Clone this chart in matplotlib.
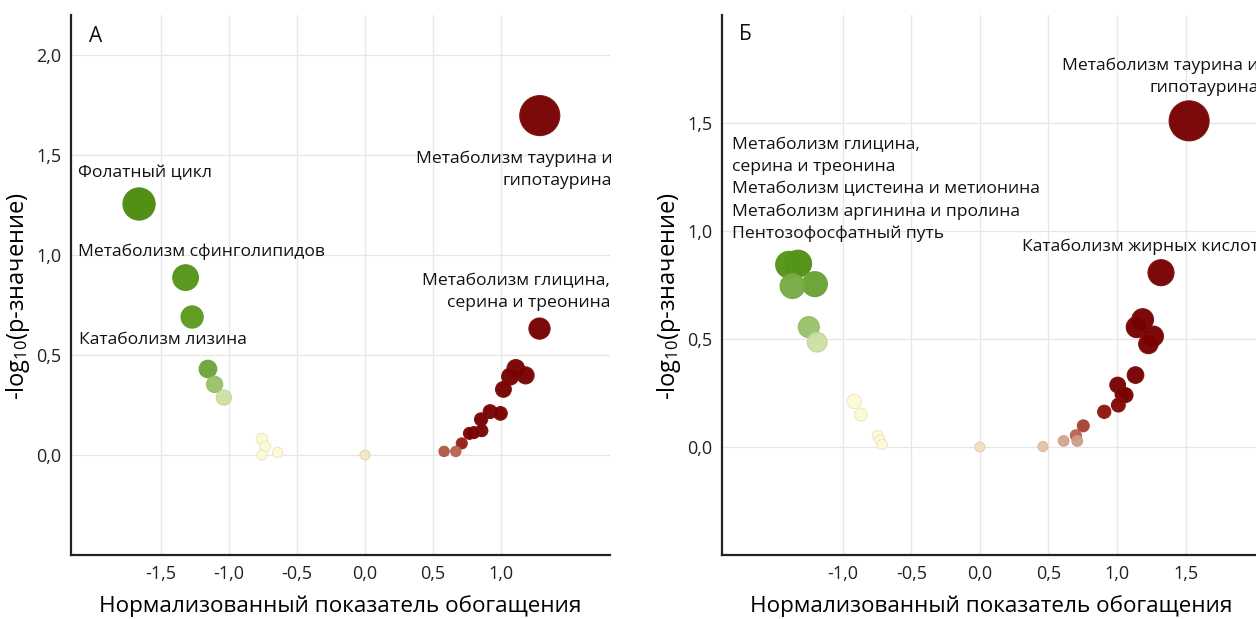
import numpy as np
import matplotlib
matplotlib.use("Agg")
import matplotlib.pyplot as plt
from matplotlib.colors import LinearSegmentedColormap, to_rgb

plt.rcParams['font.family'] = ['Open Sans', 'DejaVu Sans']
plt.rcParams['mathtext.fontset'] = 'custom'
plt.rcParams['mathtext.rm'] = 'Open Sans'
plt.rcParams['mathtext.it'] = 'Open Sans'

# Panel A: normalized enrichment score, -log10(p), colour score
nes_a = [1.284, 1.282, -1.66, -1.318, -1.27, -1.154, -1.105, -1.037,
         -0.757, -0.733, -0.757, -0.642, 0.0,
         1.108, 1.066, 1.18, 1.017, 0.919, 0.995, 0.853, 0.858,
         0.767, 0.80, 0.711, 0.581, 0.667]
logp_a = [1.697, 0.632, 1.255, 0.887, 0.69, 0.43, 0.353, 0.287,
          0.08, 0.042, 0.0, 0.013, 0.0,
          0.433, 0.392, 0.398, 0.328, 0.217, 0.208, 0.178, 0.122,
          0.108, 0.112, 0.058, 0.018, 0.018]
score_a = [1.0, 1.0, -1.0, -0.9, -0.85, -0.65, -0.45, -0.28,
           -0.1, -0.1, -0.1, -0.1, 0.0,
           1.0, 1.0, 1.0, 1.0, 1.0, 1.0, 1.0, 0.95,
           0.9, 0.9, 0.6, 0.42, 0.38]

# Panel B
nes_b = [1.526, 1.321, 1.187, 1.144, 1.265, 1.229, 1.135, 1.005, 1.063,
         1.04, 1.01, 0.907, 0.754, 0.70, 0.71, 0.611, 0.46, 0.0,
         -1.391, -1.325, -1.366, -1.203, -1.247, -1.186,
         -0.916, -0.867, -0.745, -0.728, -0.711]
logp_b = [1.51, 0.807, 0.59, 0.555, 0.513, 0.477, 0.333, 0.287, 0.24,
          0.245, 0.194, 0.163, 0.098, 0.054, 0.028, 0.028, 0.002, 0.0,
          0.844, 0.849, 0.745, 0.754, 0.555, 0.485,
          0.211, 0.15, 0.051, 0.031, 0.0125]
score_b = [1.0, 1.0, 1.0, 1.0, 1.0, 1.0, 1.0, 1.0, 0.85,
           0.85, 0.75, 0.65, 0.48, 0.38, 0.22, 0.2, 0.1, 0.02,
           -0.9, -0.95, -0.6, -0.7, -0.45, -0.28,
           -0.1, -0.1, -0.1, -0.1, -0.1]

labels_a = [
    ("А", -2.03, 2.095, "left", 15),
    ("Метаболизм таурина и\nгипотаурина", 1.816, 1.4275, "right", 12.6),
    ("Фолатный цикл", -2.106, 1.41, "left", 12.6),
    ("Метаболизм сфинголипидов", -2.106, 1.017, "left", 12.6),
    ("Метаболизм глицина,\nсерина и треонина", 1.80, 0.8165, "right", 12.6),
    ("Катаболизм лизина", -2.103, 0.575, "left", 12.6),
]
labels_b = [
    ("Б", -1.758, 1.912, "left", 15),
    ("Метаболизм таурина и\nгипотаурина", 2.033, 1.714, "right", 12.6),
    ("Метаболизм глицина,\nсерина и треонина\nМетаболизм цистеина и метионина\n"
     "Метаболизм аргинина и пролина\nПентозофосфатный путь", -1.807, 1.191, "left", 12.6),
    ("Катаболизм жирных кислот", 2.033, 0.926, "right", 12.6),
]

xticks_a = [-1.5, -1.0, -0.5, 0.0, 0.5, 1.0]
yticks_a = [0.0, 0.5, 1.0, 1.5, 2.0]
xticks_b = [-1.0, -0.5, 0.0, 0.5, 1.0, 1.5]
yticks_b = [0.0, 0.5, 1.0, 1.5]

cmap = LinearSegmentedColormap.from_list("gy_r", [
    (0.00, "#4a8c0a"), (0.07, "#589a1c"), (0.18, "#6ea63a"),
    (0.28, "#9cc46c"), (0.37, "#d2e3aa"), (0.45, "#fdfbd6"),
    (0.50, "#f6e8c6"), (0.55, "#e6c4a8"), (0.62, "#cf9a86"),
    (0.70, "#b55c4c"), (0.80, "#961c12"), (0.90, "#7e0000"),
    (1.00, "#780000")])


def comma(v):
    return f"{v:.1f}".replace(".", ",")


def panel(ax, nes, logp, score, labels, xlim, ylim, xticks, yticks):
    nes = np.asarray(nes)
    logp = np.asarray(logp)
    score = np.asarray(score)
    # marker diameter grows with significance, from 10 px to 40 px
    d_px = 10 + 30 * logp / logp.max()
    s = (d_px * 72 / 100) ** 2
    face = cmap((score + 1) / 2)
    edge = [tuple(0.85 * np.array(to_rgb(c[:3])) + 0.15 * np.array([0.55, 0.48, 0.35])) for c in face]
    order = np.argsort(-d_px)
    ax.scatter(nes[order], logp[order], s=s[order], c=face[order],
               edgecolors=[edge[i] for i in order], linewidths=0.8,
               alpha=0.96, zorder=3)
    ax.set_xlim(*xlim)
    ax.set_ylim(*ylim)
    ax.set_xticks(xticks)
    ax.set_xticklabels([comma(v) for v in xticks])
    ax.set_yticks(yticks)
    ax.set_yticklabels([comma(v) for v in yticks])
    ax.grid(True, color="#e6e6e6", lw=0.9, zorder=0)
    ax.set_axisbelow(True)
    for side in ("top", "right"):
        ax.spines[side].set_visible(False)
    for side in ("left", "bottom"):
        ax.spines[side].set_linewidth(1.6)
        ax.spines[side].set_color("#222222")
    ax.tick_params(length=0, pad=7, labelsize=13, colors="#222222")
    ax.set_xlabel("Нормализованный показатель обогащения", fontsize=16.2)
    ax.set_ylabel(r"-log$_{10}$(p-значение)", fontsize=17)
    ax.xaxis.set_label_coords(0.5, -0.074)
    ax.yaxis.set_label_coords(-0.073, 0.48)
    for text, x, y, ha, fs in labels:
        ax.text(x, y, text, ha=ha, va="center", fontsize=fs,
                linespacing=1.5, color="#111111", zorder=4)


fig = plt.figure(figsize=(12.56, 6.19), dpi=100)
ax_a = fig.add_axes([71 / 1256, 64 / 619, 539 / 1256, 540 / 619])
ax_b = fig.add_axes([722 / 1256, 64 / 619, 539 / 1256, 540 / 619])

panel(ax_a, nes_a, logp_a, score_a, labels_a, (-2.16, 1.80), (-0.5, 2.2), xticks_a, yticks_a)
panel(ax_b, nes_b, logp_b, score_b, labels_b, (-1.88, 2.05), (-0.5, 2.0), xticks_b, yticks_b)

fig.savefig("out.png", dpi=100)
